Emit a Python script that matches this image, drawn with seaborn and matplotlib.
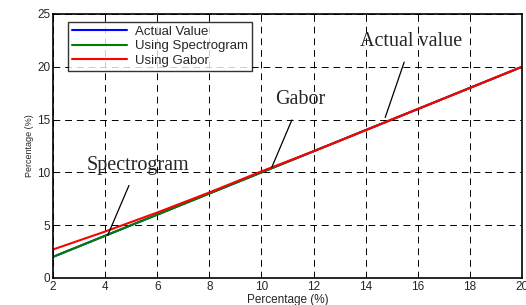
import numpy as np
import pandas as pd
import matplotlib
matplotlib.use("Agg")
import matplotlib.pyplot as plt
import seaborn as sns

# Valori
x_pct = [2, 4, 6, 8, 10, 12, 14, 16, 18, 20]
actual = [2, 4, 6, 8, 10, 12, 14, 16, 18, 20]
spectrogram = [2, 4, 6, 8, 10, 12, 14, 16, 18, 20]
gabor = [2.7, 4.4, 6.2, 8.1, 10.1, 12.0, 14.0, 16.0, 18.0, 20.0]

series_names = ["Actual Value", "Using Spectrogram", "Using Gabor"]
series_colors = ["#0000ff", "#008000", "#ff0000"]

df = pd.DataFrame({
    "x": x_pct * 3,
    "y": actual + spectrogram + gabor,
    "serie": [series_names[0]] * 10 + [series_names[1]] * 10 + [series_names[2]] * 10,
})

sns.set_style("white")
plt.rcParams["font.family"] = ["Liberation Sans", "DejaVu Sans"]

fig = plt.figure(figsize=(5.26, 3.05), dpi=100)
ax = fig.add_axes([53 / 526, 1 - 278 / 305, 469 / 526, 264 / 305])

sns.lineplot(data=df, x="x", y="y", hue="serie", palette=series_colors,
             hue_order=series_names, linewidth=1.5, ax=ax)

ax.set_xlim(2, 20)
ax.set_ylim(0, 25)
ax.set_xticks(x_pct)
ax.set_yticks([0, 5, 10, 15, 20, 25])
ax.tick_params(direction="in", length=4, labelsize=8.5, color="black", width=0.8, pad=2)
ax.grid(True, color="black", linestyle=(0, (7, 5)), linewidth=0.7)
for s in ax.spines.values():
    s.set_color("black")
    s.set_linewidth(1.2)

ax.set_xlabel("Percentage (%)", fontsize=8.5, labelpad=1)
ax.set_ylabel("Percentage (%)", fontsize=6.5, labelpad=2)

leg = ax.legend(loc="upper left", bbox_to_anchor=(0.032, 0.97), fontsize=9.5, frameon=True,
                fancybox=False, edgecolor="black", borderpad=0.3, labelspacing=0.15,
                handlelength=4.2, handletextpad=0.6, borderaxespad=0)
leg.get_frame().set_linewidth(1.0)

# Annotazioni con testo serif
serif = ["Liberation Serif", "DejaVu Serif"]
ax.annotate("Spectrogram", xy=(4.1, 4.05), xytext=(5.25, 10.7), fontsize=14.5, family=serif,
            ha="center", va="center",
            arrowprops=dict(arrowstyle="-", color="black", lw=0.9, shrinkA=6, shrinkB=0))
ax.annotate("Gabor", xy=(10.4, 10.5), xytext=(11.5, 16.9), fontsize=14.5, family=serif,
            ha="center", va="center",
            arrowprops=dict(arrowstyle="-", color="black", lw=0.9, shrinkA=6, shrinkB=0))
ax.annotate("Actual value", xy=(14.75, 15.2), xytext=(15.75, 22.4), fontsize=14.5, family=serif,
            ha="center", va="center",
            arrowprops=dict(arrowstyle="-", color="black", lw=0.9, shrinkA=6, shrinkB=0))

fig.savefig("out.png", dpi=100)
